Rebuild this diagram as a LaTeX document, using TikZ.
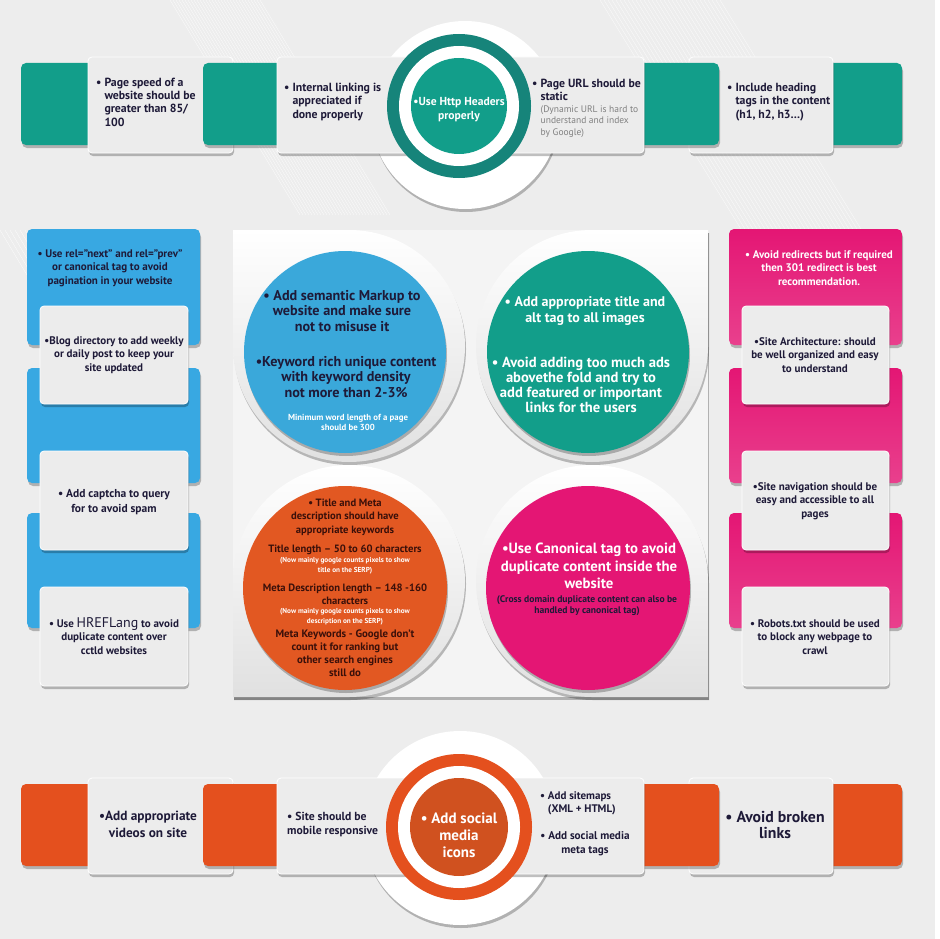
\documentclass[tikz,border=0pt]{standalone}
\usepackage{fontspec}
\setmainfont{PT Sans}
\usetikzlibrary{shadows}
\usetikzlibrary{positioning}
\definecolor{seobg}{RGB}{237,237,237}
\definecolor{seocard}{RGB}{236,236,236}
\definecolor{seoteal}{RGB}{18,158,138}
\definecolor{seotealdark}{RGB}{22,132,122}
\definecolor{seoblue}{RGB}{56,168,226}
\definecolor{seocircblue}{RGB}{58,168,218}
\definecolor{seopink}{RGB}{228,22,116}
\definecolor{seoorange}{RGB}{228,80,30}
\definecolor{seocircorange}{RGB}{226,88,34}
\definecolor{seoink}{RGB}{30,26,56}
\definecolor{seobrown}{RGB}{58,16,10}
\definecolor{seogrey}{RGB}{128,128,128}
\tikzstyle{seoshadow}=[drop shadow={shadow xshift=1pt,shadow yshift=-3pt,opacity=0.25,fill=black}]
\tikzstyle{card}=[fill=seocard,draw=white,line width=0.8pt,rounded corners=4pt,seoshadow]
\tikzstyle{tealbox}=[fill=seoteal,rounded corners=5pt,seoshadow]
\tikzstyle{orangebox}=[fill=seoorange,rounded corners=5pt,seoshadow]
\tikzstyle{bluebox}=[fill=seoblue,rounded corners=5pt,seoshadow]
\tikzstyle{pinkbox}=[top color=seopink,bottom color=seopink!82!white,rounded corners=5pt,seoshadow]
\tikzstyle{petal}=[top color=white,bottom color=black!12,seoshadow]
\tikzstyle{streak}=[white,opacity=0.8,line width=0.3pt]
\tikzstyle{cardtext}=[text=seoink,align=left,inner sep=0pt,font={\bfseries\fontsize{11.8}{13.3}\selectfont}]
\tikzstyle{notetext}=[text=seogrey,align=left,inner sep=0pt,font={\fontsize{9.5}{11.5}\selectfont}]
\tikzstyle{sidetext}=[text=seoink,align=center,inner sep=0pt,font={\bfseries\fontsize{11}{13.5}\selectfont}]
\tikzstyle{bigtext}=[align=center,inner sep=0pt,font={\bfseries\fontsize{14.2}{15.2}\selectfont}]
\tikzstyle{midtext}=[text=seobrown,align=center,inner sep=0pt,font={\bfseries\fontsize{10.6}{13.4}\selectfont}]
\tikzstyle{smalltext}=[align=center,inner sep=0pt,font={\bfseries\fontsize{8.8}{10}\selectfont}]
\newcommand{\seobul}{\textbullet\ }
\newcommand{\seoind}{\phantom{\textbullet\ }}

\begin{document}
\begin{tikzpicture}[x=1pt,y=1pt]
  \useasboundingbox (0,0) rectangle (939,-939);
  \fill[seobg] (0,0) rectangle (935,-939);
  \fill[white] (935,0) rectangle (939,-939);
  % hairline streaks
  \foreach \i in {0,3,...,90}
    \draw[streak] ({170+\i},0) -- ({300+\i},-215);
  \foreach \i in {0,4,...,120}
    \draw[streak] ({600+\i},0) -- ({760+\i},-260);
  \foreach \i in {0,5,...,40}
    \draw[streak] ({\i},-230) -- ({60+\i},-330);

  % top row
  \path[tealbox] (21,-63) rectangle (130,-145);
  \path[card] (88,-57) rectangle (233,-153);
  \path[tealbox] (203,-63) rectangle (320,-145);
  \path[tealbox] (800,-63) rectangle (902,-145);
  \path[card] (689,-57) rectangle (833,-153);
  \path[tealbox] (610,-63) rectangle (719,-145);
  \fill[white,seoshadow] (465,-115) circle (94);
  \path[card] (277,-57) rectangle (644,-153);
  \fill[seotealdark] (459,-106) circle (72);
  \fill[white] (459,-106) circle (60);
  \fill[seoteal] (459,-106) circle (48);

  \node[cardtext,anchor=west] (pagespeed) at (96,-102)
    {\seobul Page speed of a\\ \seoind website should be\\ \seoind greater than 85/\\ \seoind 100};
  \node[cardtext,anchor=west] (linking) at (284,-102)
    {\seobul Internal linking is\\ \seoind appreciated if\\ \seoind done properly};
  \node[cardtext,anchor=north west] (urlstatic) at (532,-79)
    {\seobul Page URL should be\\ \seoind static};
  \node[notetext,below right=4pt and 8.5pt of urlstatic.south west] (urlnote)
    {(Dynamic URL is hard to\\ understand and index\\ by Google)};
  \node[cardtext,anchor=west] (headings) at (727,-102)
    {\seobul Include heading\\ \seoind tags in the content\\ \seoind (h1, h2, h3…)};
  \node[cardtext,align=center,text=white,font={\bfseries\fontsize{11.6}{14}\selectfont}] (http) at (459,-110)
    {\textbullet Use Http Headers\\ properly};

  % left column
  \path[bluebox] (27,-229) rectangle (200,-345);
  \path[bluebox] (27,-368) rectangle (200,-483);
  \path[bluebox] (27,-513) rectangle (200,-628);
  \path[card] (40,-306) rectangle (188,-404);
  \path[card] (40,-451) rectangle (188,-550);
  \path[card] (40,-587) rectangle (188,-686);
  \node[sidetext] (relnext) at (110,-268)
    {\seobul Use rel=”next” and rel=”prev”\\ or canonical tag to avoid\\ pagination in your website};
  \node[sidetext] (blog) at (114,-355)
    {\textbullet Blog directory to add weekly\\ or daily post to keep your\\ site updated};
  \node[sidetext,font={\bfseries\fontsize{11.5}{15}\selectfont}] (captcha) at (114,-502)
    {\seobul Add captcha to query\\ for to avoid spam};
  \node[sidetext] (hreflang) at (114,-636)
    {\seobul Use {\mdseries\fontsize{14}{13}\selectfont HREFLang} to avoid\\ duplicate content over\\ cctld websites};

  % right column
  \path[pinkbox] (729,-229) rectangle (902,-345);
  \path[pinkbox] (729,-368) rectangle (902,-483);
  \path[pinkbox] (729,-513) rectangle (902,-628);
  \path[card] (742,-306) rectangle (889,-404);
  \path[card] (742,-451) rectangle (889,-550);
  \path[card] (742,-587) rectangle (889,-686);
  \node[sidetext,text=white] (redirects) at (819,-268)
    {\seobul Avoid redirects but if required\\ then 301 redirect is best\\ recommendation.};
  \node[sidetext] (architecture) at (815,-355)
    {\textbullet Site Architecture: should\\ be well organized and easy\\ to understand};
  \node[sidetext] (navigation) at (815,-501)
    {\textbullet Site navigation should be\\ easy and accessible to all\\ pages};
  \node[sidetext] (robots) at (815,-637)
    {\seobul Robots.txt should be used\\ to block any webpage to\\ crawl};

  % middle panel
  \fill[seobg!60!white,seoshadow] (233,-230) rectangle (708,-697);
  \path[petal] (233,-346) -- (233,-230) -- (349,-230) arc[start angle=90,end angle=-180,radius=116] -- cycle;
  \path[petal] (708,-346) -- (708,-230) -- (592,-230) arc[start angle=90,end angle=360,radius=116] -- cycle;
  \path[petal] (349,-697) -- (233,-697) -- (233,-581) arc[start angle=180,end angle=-90,radius=116] -- cycle;
  \path[petal] (708,-581) -- (708,-697) -- (592,-697) arc[start angle=270,end angle=0,radius=116] -- cycle;
  \fill[seocircblue,seoshadow] (345,-352) circle (101);
  \fill[seoteal,seoshadow] (588,-352) circle (101);
  \fill[seocircorange,seoshadow] (345,-588) circle (102);
  \fill[seopink,seoshadow] (588,-588) circle (102);

  \node[bigtext,text=seoink] (markup) at (342,-311)
    {\seobul Add semantic Markup to\\ website and make sure\\ not to misuse it};
  \node[bigtext,text=seoink] (keyword) at (346,-377)
    {\textbullet Keyword rich unique content\\ with keyword density\\ not more than 2-3\%};
  \node[smalltext,text=white] (wordlength) at (348,-422)
    {Minimum word length of a page\\ should be 300};

  \node[bigtext,text=white,font={\bfseries\fontsize{14}{16.5}\selectfont}] (alttag) at (585,-311)
    {\seobul Add appropriate title and\\ alt tag to all images};
  \node[bigtext,text=white,font={\bfseries\fontsize{14.6}{15.2}\selectfont}] (ads) at (581,-385)
    {\seobul Avoid adding too much ads\\ abovethe fold and try to\\ add featured or important\\ links for the users};

  \node[midtext] (titlemeta) at (345,-517)
    {\seobul Title and Meta\\ description should have\\ appropriate keywords};
  \node[midtext] (titlelen) at (345,-550) {Title length – 50 to 60 characters};
  \node[smalltext,text=white,font={\bfseries\fontsize{7.2}{10}\selectfont}] (titlenote) at (345,-566)
    {(Now mainly google counts pixels to show\\ title on the SERP)};
  \node[midtext] (desclen) at (345,-594)
    {Meta Description length – 148 -160\\ characters};
  \node[smalltext,text=white,font={\bfseries\fontsize{7.2}{10}\selectfont}] (descnote) at (345,-617)
    {(Now mainly google counts pixels to show\\ description on the SERP)};
  \node[midtext,font={\bfseries\fontsize{10.8}{13}\selectfont}] (metakw) at (345,-653)
    {Meta Keywords - Google don’t\\ count it for ranking but\\ other search engines\\ still do};

  \node[bigtext,text=white,font={\bfseries\fontsize{14.8}{17.5}\selectfont}] (canonical) at (589,-566)
    {\textbullet Use Canonical tag to avoid\\ duplicate content inside the\\ website};
  \node[smalltext,text=seoink,font={\bfseries\fontsize{9.6}{11}\selectfont}] (crossdomain) at (587,-606)
    {(Cross domain duplicate content can also be\\ handled by canonical tag)};

  % bottom row
  \path[orangebox] (21,-784) rectangle (130,-866);
  \path[card] (88,-778) rectangle (233,-874);
  \path[orangebox] (203,-784) rectangle (320,-866);
  \path[orangebox] (800,-784) rectangle (902,-866);
  \path[card] (689,-778) rectangle (833,-874);
  \path[orangebox] (610,-784) rectangle (719,-866);
  \fill[white,seoshadow] (460,-828) circle (97);
  \path[card] (277,-778) rectangle (644,-874);
  \fill[seoorange] (459,-827) circle (73);
  \fill[white] (459,-827) circle (61);
  \fill[seocircorange!92!black] (459,-827) circle (49);

  \node[cardtext,align=center,font={\bfseries\fontsize{13.3}{17}\selectfont}] (videos) at (148,-824)
    {\textbullet Add appropriate\\ videos on site};
  \node[cardtext,anchor=west,font={\bfseries\fontsize{11.7}{14}\selectfont}] (mobile) at (287,-824)
    {\seobul Site should be\\ mobile responsive};
  \node[cardtext,align=center,text=white,font={\bfseries\fontsize{15}{17}\selectfont}] (social) at (459,-835)
    {\seobul Add social\\ media\\ icons};
  \node[cardtext,anchor=west,font={\bfseries\fontsize{11}{13}\selectfont}] (sitemaps) at (540,-803)
    {\seobul Add sitemaps\\ \seoind (XML + HTML)};
  \node[cardtext,align=center,font={\bfseries\fontsize{11.2}{14}\selectfont}] (socialmeta) at (585,-844)
    {\seobul Add social media\\ meta tags};
  \node[cardtext,align=center,font={\bfseries\fontsize{15.8}{16}\selectfont}] (broken) at (775,-825)
    {\seobul Avoid broken\\ links};
\end{tikzpicture}
\end{document}
